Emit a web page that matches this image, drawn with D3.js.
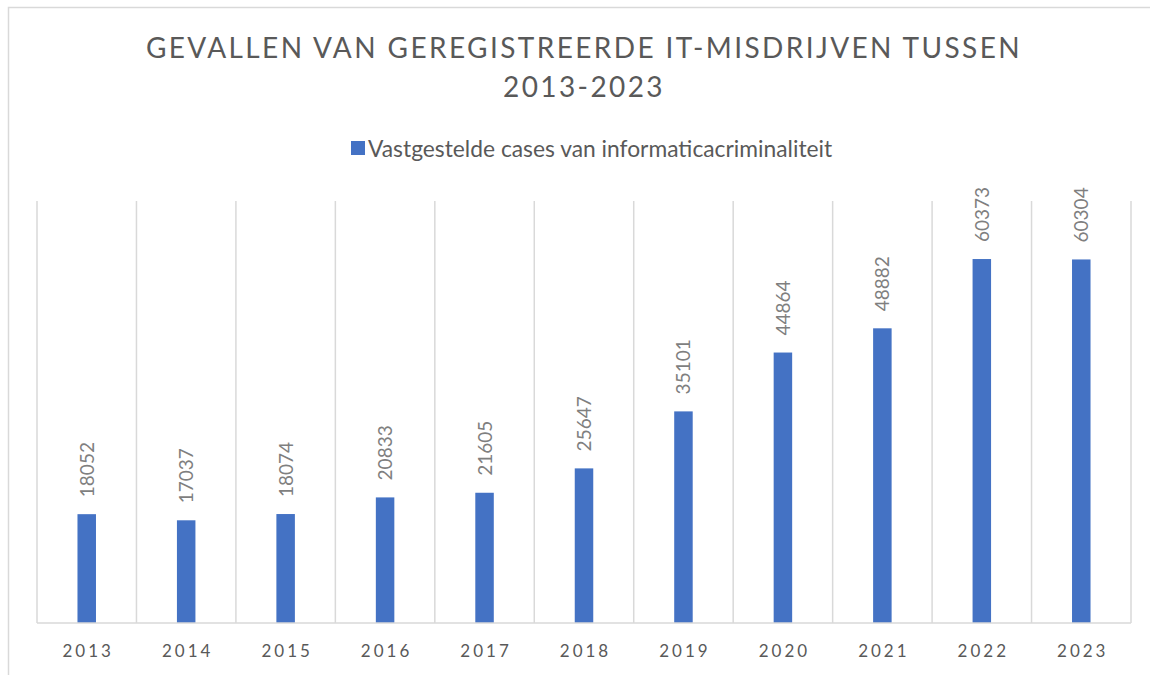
<!DOCTYPE html>
<html>
<head>
<meta charset="utf-8">
<script src="https://cdn.jsdelivr.net/npm/d3@7"></script>
<style>
  body { margin: 0; background: #fff; }
  svg { display: block; font-family: Lato, "Open Sans", sans-serif; }
</style>
</head>
<body>
<div id="chart"></div>
<script>
// data
const years = ["2013", "2014", "2015", "2016", "2017", "2018", "2019", "2020", "2021", "2022", "2023"];
const cases = [18052, 17037, 18074, 20833, 21605, 25647, 35101, 44864, 48882, 60373, 60304];
const titleLines = ["GEVALLEN VAN GEREGISTREERDE IT-MISDRIJVEN TUSSEN", "2013-2023"];
const seriesName = "Vastgestelde cases van informaticacriminaliteit";

const W = 1150, H = 675;
const plot = {left: 37, right: 1131, top: 201, bottom: 623};

const svg = d3.select("#chart").append("svg")
    .attr("width", W)
    .attr("height", H);

// outer chart frame (runs off the right/bottom edge)
svg.append("rect")
    .attr("x", 8.5).attr("y", 7.5)
    .attr("width", W).attr("height", H)
    .attr("fill", "none")
    .attr("stroke", "#d9d9d9")
    .attr("stroke-width", 1.5);

const x = d3.scaleBand()
    .domain(years)
    .range([plot.left, plot.right]);

const y = d3.scaleLinear()
    .domain([0, 70000])
    .range([plot.bottom, plot.top]);

// vertical gridlines between categories
const edges = years.map(d => x(d)).concat([plot.right]);
svg.append("g")
  .selectAll("line")
  .data(edges)
  .enter()
  .append("line")
    .attr("x1", d => d).attr("x2", d => d)
    .attr("y1", plot.top).attr("y2", plot.bottom)
    .attr("stroke", "#d9d9d9")
    .attr("stroke-width", 1.5);

// title
svg.append("g")
  .selectAll("text")
  .data(titleLines)
  .enter()
  .append("text")
    .attr("x", (plot.left + plot.right) / 2)
    .attr("y", (d, i) => 58 + i * 39)
    .attr("text-anchor", "middle")
    .attr("font-size", "28px")
    .attr("letter-spacing", "2.4px")
    .attr("fill", "#595959")
    .text(d => d);

// legend
const legend = svg.append("g");
legend.append("rect")
    .attr("x", 351).attr("y", 141)
    .attr("width", 14).attr("height", 14)
    .attr("fill", "#4472c4");
legend.append("text")
    .attr("x", 368).attr("y", 157)
    .attr("font-size", "22.8px")
    .attr("fill", "#595959")
    .text(seriesName);

// bars
const bw = x.bandwidth() * 0.186;
svg.append("g")
  .selectAll("rect")
  .data(cases)
  .enter()
  .append("rect")
    .attr("x", (d, i) => x(years[i]) + x.bandwidth() / 2 - bw / 2)
    .attr("y", d => y(d))
    .attr("width", bw)
    .attr("height", d => y(0) - y(d))
    .attr("fill", "#4472c4");

// baseline
svg.append("line")
    .attr("x1", plot.left).attr("x2", plot.right)
    .attr("y1", plot.bottom).attr("y2", plot.bottom)
    .attr("stroke", "#d9d9d9")
    .attr("stroke-width", 1.5);

// value labels, rotated
svg.append("g")
  .selectAll("text")
  .data(cases)
  .enter()
  .append("text")
    .attr("transform", (d, i) => `translate(${x(years[i]) + x.bandwidth() / 2 + 7},${y(d) - 17}) rotate(-90)`)
    .attr("font-size", "19px")
    .attr("fill", "#7f7f7f")
    .text(d => d);

// category labels
svg.append("g")
  .selectAll("text")
  .data(years)
  .enter()
  .append("text")
    .attr("x", d => x(d) + x.bandwidth() / 2 + 1.5)
    .attr("y", 657)
    .attr("text-anchor", "middle")
    .attr("font-size", "17px")
    .attr("letter-spacing", "3px")
    .attr("fill", "#595959")
    .text(d => d);
</script>
</body>
</html>
